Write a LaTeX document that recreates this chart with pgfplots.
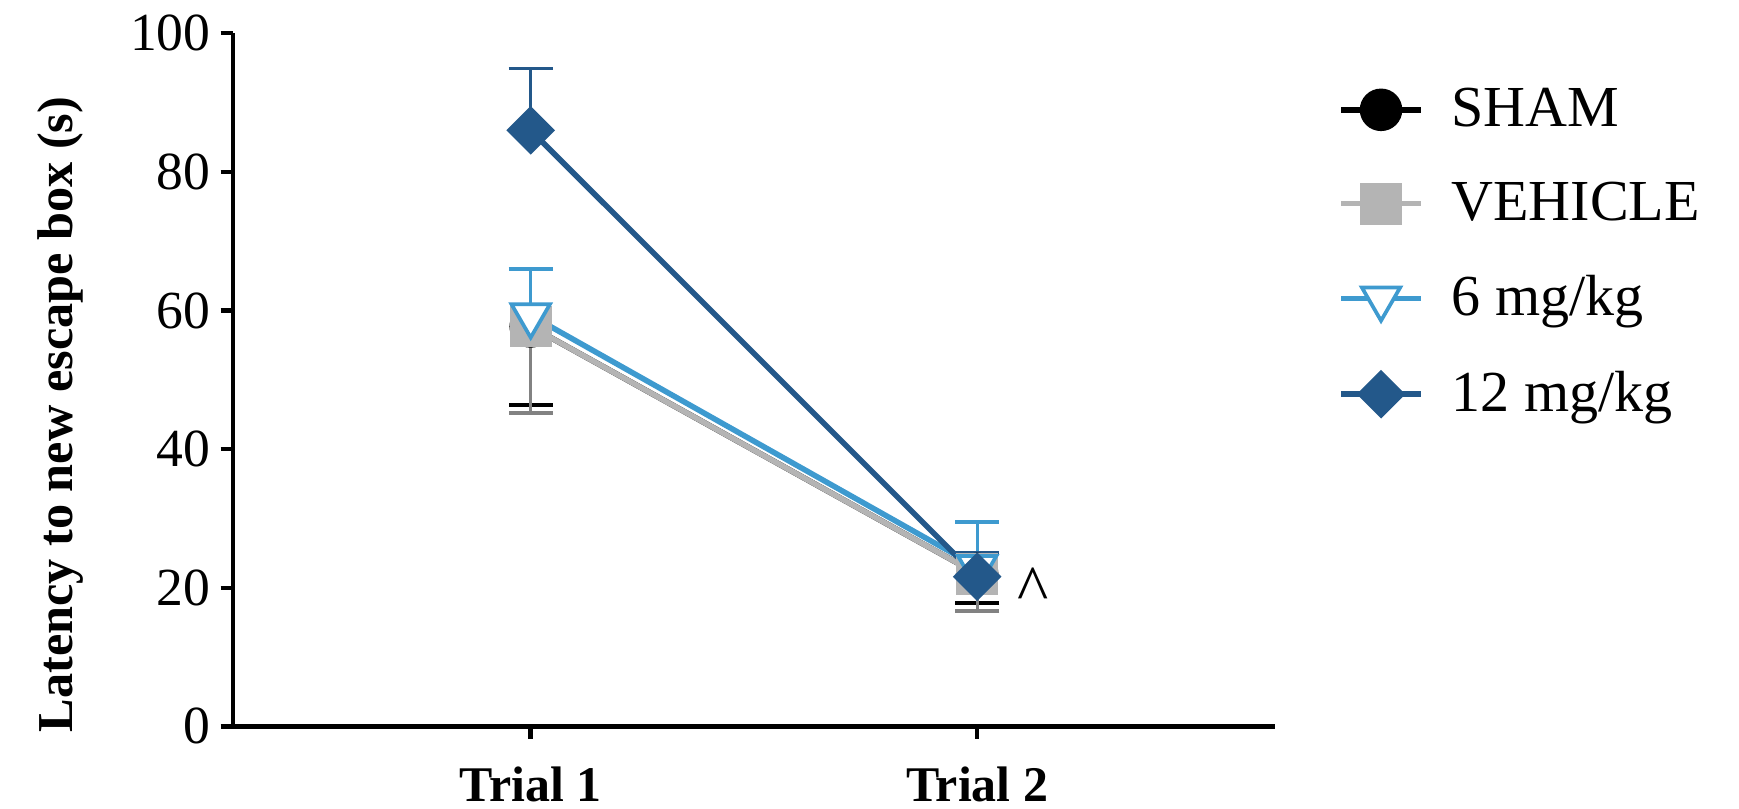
\documentclass[border=0pt]{standalone}
\usepackage{fontspec}
\setmainfont{Liberation Serif}
\usepackage{pgfplots}
\pgfplotsset{compat=1.18}
\definecolor{dblue}{RGB}{35,88,138}
\definecolor{lblue}{RGB}{62,154,207}
\definecolor{vgray}{RGB}{180,180,180}
\definecolor{egray}{RGB}{130,130,130}
\begin{document}
\begin{tikzpicture}
\useasboundingbox (0,0) rectangle (470.4pt,218.7pt);
\begin{axis}[
  at={(63pt,22.2pt)}, anchor=south west,
  scale only axis, width=282pt, height=187.5pt,
  xmin=0.333, xmax=2.668, ymin=0, ymax=100,
  axis x line=bottom, axis y line=left,
  axis line style={-, line width=1.2pt, black},
  xtick={1,2}, xticklabels={\textbf{Trial 1},\textbf{Trial 2}},
  ytick={0,20,40,60,80,100},
  tick align=outside, major tick length=3.3pt,
  tick style={line width=1.2pt, black},
  /pgf/number format/assume math mode=true,
  yticklabel style={font=\fontsize{14.5}{16}\selectfont, xshift=0.8pt},
  xticklabel style={font=\fontsize{13.5}{15}\selectfont, yshift=-4pt},
  ylabel={\textbf{Latency to new escape box (s)}},
  ylabel style={font=\fontsize{13.6}{15}\selectfont, at={(axis description cs:-0.165,0.45)}, anchor=center},
  legend style={at={(1.06,0.933)}, anchor=north west, draw=none, fill=none,
    font=\fontsize{15.7}{18}\selectfont, row sep=9.5pt, column sep=5.6pt, inner sep=0pt},
  legend cell align=left,
  legend image code/.code={\draw[mark repeat=2,mark phase=2] plot coordinates {(0pt,0pt) (10.7pt,0pt) (21.4pt,0pt)};},
  clip=false,
]
\addplot[black, line width=1.5pt, mark=*, mark size=5pt,
  error bars/.cd, y dir=minus, y explicit,
  error bar style={line width=0.9pt, black},
  error mark options={rotate=90, mark size=6pt, line width=1pt, black}]
  coordinates {(1,57.7) +- (0,11.3) (2,22) +- (0,4.2)};
\addlegendentry{SHAM}
\addplot[vgray, line width=1.5pt, mark=square*, mark size=4.9pt,
  error bars/.cd, y dir=minus, y explicit,
  error bar style={line width=0.9pt, egray},
  error mark options={rotate=90, mark size=6pt, line width=1pt, egray}]
  coordinates {(1,57.7) +- (0,12.5) (2,22) +- (0,5.3)};
\addlegendentry{VEHICLE}
\addplot[lblue, line width=1.5pt, mark=triangle*, mark size=6pt, mark options={rotate=180, fill=white, line width=1pt},
  error bars/.cd, y dir=plus, y explicit,
  error bar style={line width=0.9pt, lblue},
  error mark options={rotate=90, mark size=6pt, line width=1pt, lblue}]
  coordinates {(1,59.3) +- (0,6.7) (2,23) +- (0,6.5)};
\addlegendentry{6 mg/kg}
\addplot[dblue, line width=1.5pt, mark=square*, mark size=3.9pt, mark options={rotate=45},
  error bars/.cd, y dir=plus, y explicit,
  error bar style={line width=0.9pt, dblue},
  error mark options={rotate=90, mark size=6pt, line width=1pt, dblue}]
  coordinates {(1,86) +- (0,8.9) (2,21.6) +- (0,3.5)};
\addlegendentry{12 mg/kg}
\node[font=\fontsize{18}{20}\selectfont] at (axis cs:2.125,19.7) {\textasciicircum};
\end{axis}
\end{tikzpicture}
\end{document}
